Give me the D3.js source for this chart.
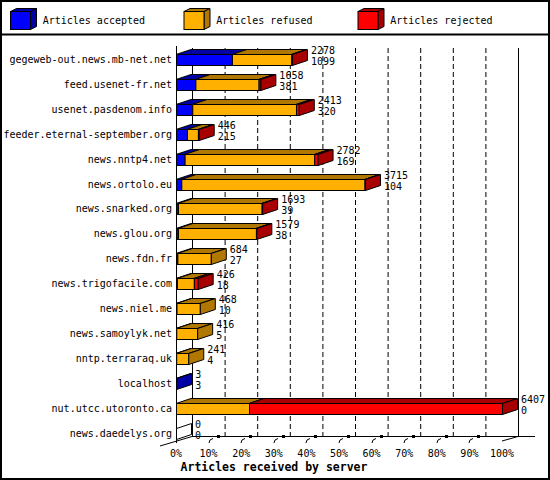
<!DOCTYPE html>
<html><head><meta charset="utf-8">
<script src="https://cdn.jsdelivr.net/npm/d3@7"></script>
<style>body{margin:0;background:#fff}svg{display:block}</style>
</head><body>
<svg id="c" width="550" height="480"></svg>
<script>
const servers = ["gegeweb-out.news.mb-net.net","feed.usenet-fr.net","usenet.pasdenom.info","feeder.eternal-september.org","news.nntp4.net","news.ortolo.eu","news.snarked.org","news.glou.org","news.fdn.fr","news.trigofacile.com","news.niel.me","news.samoylyk.net","nntp.terraraq.uk","localhost","nut.utcc.utoronto.ca","news.daedelys.org"];
const totals   = [2278,1658,2413,446,2782,3715,1693,1579,684,426,468,416,241,3,6407,0];
const accepted = [1099,381,320,215,169,104,39,38,27,18,10,5,4,3,0,0];
const refused  = [1169,1242,2038,216,2548,3601,1644,1533,657,333,458,411,237,0,1435,0];
const rejected = [10,35,55,15,65,10,10,8,0,75,0,0,0,0,4972,0];
const seriesNames = ["Articles accepted","Articles refused","Articles rejected"];
const tickPct = [0,10,20,30,40,50,60,70,80,90,100];
const tickLabels = ["0%","10%","20%","30%","40%","50%","60%","70%","80%","90%","100%"];
const xTitle = "Articles received by server";

const front = ["#0000ff","#ffb000","#ff0000"];
const dark  = ["#0000a4","#b07800","#a80000"];
const FONT = "'DejaVu Sans Mono', monospace";

const svg = d3.select("#c");
svg.append("rect").attr("x",1).attr("y",1).attr("width",548).attr("height",478)
  .attr("fill","#fff").attr("stroke","#000").attr("stroke-width",2);
svg.append("line").attr("x1",0).attr("x2",550).attr("y1",34.5).attr("y2",34.5)
  .attr("stroke","#000").attr("stroke-width",2);

// legend
const legX = [10,183.5,357.5];
seriesNames.forEach((n,i)=>{
  const g = svg.append("g").attr("transform",`translate(${legX[i]},0)`);
  g.append("polygon").attr("points","0.5,11.5 6.5,8.5 26.5,8.5 20.5,11.5").attr("fill",dark[i]).attr("stroke","#000");
  g.append("polygon").attr("points","20.5,11.5 26.5,8.5 26.5,26.5 20.5,29.5").attr("fill",dark[i]).attr("stroke","#000");
  g.append("rect").attr("x",0.5).attr("y",11.5).attr("width",20).attr("height",18).attr("fill",front[i]).attr("stroke","#000");
  g.append("text").attr("x",32.7).attr("y",24).attr("font-family",FONT).attr("font-size",10).text(n);
});

const maxT = d3.max(totals);
const x = d3.scaleLinear().domain([0,maxT]).range([176,502]);
const xp = d3.scaleLinear().domain([0,100]).range([176,502]);
const y = d3.scaleBand().domain(servers).range([54,54+24.9*(16-0.558)]).paddingInner(0.558).paddingOuter(0).align(0);
const h = y.bandwidth();
const DX = 16, DY = 5;   // axis depth
const BX = 15, BY = 5;   // bar depth
const floorF = 441, floorB = 436, topY = 48;

// back grid
tickPct.slice(1,10).forEach(p=>{
  svg.append("line").attr("x1",xp(p)+DX+0.5).attr("x2",xp(p)+DX+0.5).attr("y1",topY).attr("y2",floorB)
    .attr("stroke","#000").attr("stroke-dasharray","5,3");
});
// back wall lines
svg.append("line").attr("x1",192.5).attr("x2",192.5).attr("y1",topY).attr("y2",floorB).attr("stroke","#000");
svg.append("line").attr("x1",xp(100)+DX+0.5).attr("x2",xp(100)+DX+0.5).attr("y1",topY).attr("y2",floorB).attr("stroke","#000");
// floor
svg.append("line").attr("x1",192).attr("x2",535).attr("y1",floorB+0.5).attr("y2",floorB+0.5).attr("stroke","#000");
svg.append("line").attr("x1",160).attr("y1",446).attr("x2",192).attr("y2",floorB+0.5).attr("stroke","#000");
svg.append("line").attr("x1",xp(100)).attr("y1",floorF).attr("x2",xp(100)+DX).attr("y2",floorB+0.5).attr("stroke","#000");
// front axis
svg.append("line").attr("x1",176.5).attr("x2",176.5).attr("y1",46).attr("y2",443).attr("stroke","#000");
// floor tick marks
tickPct.slice(1,10).forEach(p=>{
  const xf = Math.round(xp(p));
  svg.append("path").attr("d",`M${xf},443 L${xf+1},440 L${xf+4},438.5`).attr("fill","none").attr("stroke","#000");
  svg.append("rect").attr("x",xf+8).attr("y",435).attr("width",3).attr("height",3).attr("fill","#000");
});
// tick labels
tickPct.forEach((p,i)=>{
  svg.append("text").attr("x",xp(p)).attr("y",457).attr("text-anchor","middle")
    .attr("font-family",FONT).attr("font-size",10).text(tickLabels[i]);
});
svg.append("text").attr("x",274).attr("y",471).attr("text-anchor","middle")
  .attr("font-family",FONT).attr("font-size",11.5).attr("font-weight","bold").text(xTitle);

// bars
servers.forEach((s,i)=>{
  const t = Math.round(y(s));
  const vals = [accepted[i],refused[i],rejected[i]];
  let cum = 0, last = -1;
  const segs = [];
  vals.forEach((v,k)=>{ if(v>0){segs.push({k,x0:x(cum),x1:x(cum+v)}); last=k;} cum+=v; });
  const xe = x(totals[i]);
  // top faces
  segs.forEach(sg=>{
    svg.append("polygon").attr("points",`${sg.x0},${t+0.5} ${sg.x0+BX},${t+0.5-BY} ${sg.x1+BX},${t+0.5-BY} ${sg.x1},${t+0.5}`)
      .attr("fill",dark[sg.k]).attr("stroke","#000");
  });
  // front faces
  segs.forEach(sg=>{
    svg.append("rect").attr("x",sg.x0+0.5).attr("y",t+0.5).attr("width",Math.max(0,sg.x1-sg.x0)).attr("height",h)
      .attr("fill",front[sg.k]).attr("stroke","#000");
  });
  // side face
  svg.append("polygon").attr("points",`${xe+0.5},${t+0.5} ${xe+BX+0.5},${t+0.5-BY} ${xe+BX+0.5},${t+0.5-BY+h} ${xe+0.5},${t+0.5+h}`)
    .attr("fill",last>=0?dark[last]:"#fff").attr("stroke","#000");
  // value labels
  const tx = xe+BX+4;
  svg.append("text").attr("x",tx).attr("y",t-0.5).attr("font-family",FONT).attr("font-size",10).text(totals[i]);
  svg.append("text").attr("x",tx).attr("y",t+11).attr("font-family",FONT).attr("font-size",10).text(accepted[i]);
  // category label
  svg.append("text").attr("x",172).attr("y",t+9).attr("text-anchor","end")
    .attr("font-family",FONT).attr("font-size",10).text(s);
});
</script>
</body></html>
